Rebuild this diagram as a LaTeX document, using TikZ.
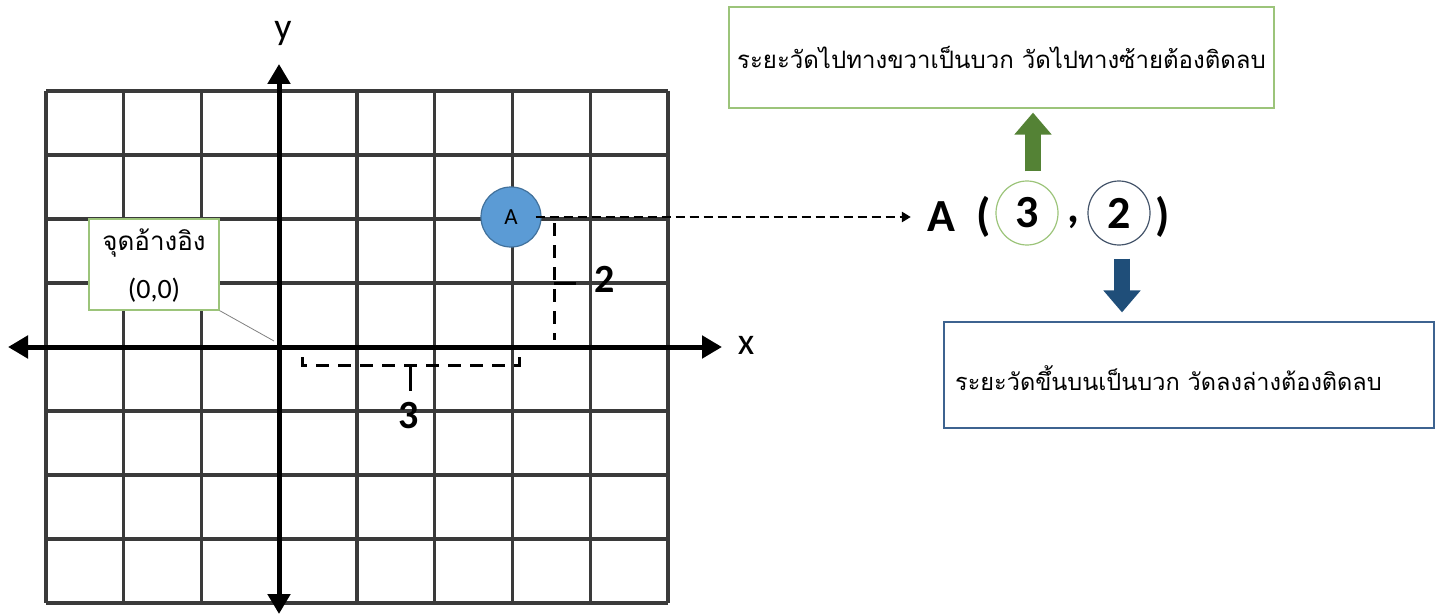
\documentclass[tikz,border=0pt]{standalone}
\usepackage{fontspec}
\setmainfont{Carlito}
\newfontfamily\thai[Script=Thai]{Loma}
\usetikzlibrary{arrows.meta,shapes.geometric}
\definecolor{gridc}{HTML}{3A3A3A}
\definecolor{ptfill}{HTML}{5B9BD5}
\definecolor{ptdraw}{HTML}{41719C}
\definecolor{garrow}{HTML}{548235}
\definecolor{barrow}{HTML}{1F4E79}
\definecolor{gbox}{HTML}{9CC47A}
\definecolor{bbox}{HTML}{3D6390}
\definecolor{e2c}{HTML}{44546A}
\tikzset{
  axis/.style={line width=5pt, {Triangle[length=20pt,width=22pt]}-{Triangle[length=20pt,width=22pt]}},
  gridline/.style={gridc, line width=3.2pt},
  dashline/.style={line width=3pt, dash pattern=on 13pt off 9pt},
  infobox/.style={draw, line width=1.2pt, fill=white, inner sep=0pt},
  coordtxt/.style={font=\bfseries\fontsize{46}{50}\selectfont, inner sep=0pt},
  ring/.style={ellipse, draw, line width=1.2pt, minimum width=62pt, minimum height=64pt, inner sep=0pt, font=\bfseries\fontsize{46}{50}\selectfont},
  blockarrow/.style={line width=16pt, -{Triangle[length=22pt,width=36pt]}},
}
\begin{document}
\begin{tikzpicture}[x=1pt,y=-1pt]
\useasboundingbox (0,0) rectangle (1441,615);
% grid
\foreach \k in {0,...,8} {
  \draw[gridline] ({46+\k*77.75},91) -- ({46+\k*77.75},603);
  \draw[gridline] (46,{91+\k*64}) -- (668,{91+\k*64});
}
% axes
\coordinate (yb) at (279,614);
\coordinate (yt) at (279,64);
\coordinate (xl) at (8,347);
\coordinate (xr) at (722,347);
\draw[axis] (yb) -- (yt);
\draw[axis] (xl) -- (xr);
\node[font=\fontsize{38}{40}\selectfont] (ylab) at (283,33) {y};
\node[font=\fontsize{38}{40}\selectfont] (xlab) at (746,345) {x};
% origin label
\coordinate (orig) at (274,341);
\node[infobox, draw=gbox, minimum width=130pt, minimum height=91pt] (olab) at (154,264.5) {};
\draw[gray, line width=0.8pt] (olab.south east) -- (orig);
\node[font=\thai\fontsize{26}{28}\selectfont, inner sep=0pt] (olab1) at (154,243) {จุดอ้างอิง};
\node[font=\fontsize{28}{30}\selectfont, inner sep=0pt] (olab2) at (154,290) {(0,0)};
% point A
\node[circle, fill=ptfill, draw=ptdraw, line width=1.2pt, minimum width=60pt, inner sep=0pt, font=\fontsize{23}{24}\selectfont] (pA) at (511,217) {A};
% dashed guides
\coordinate (v1) at (554,223);
\coordinate (v2) at (554,340);
\draw[dashline] (v1) -- (v2);
\coordinate (t2a) at (554,283);
\coordinate (t2b) at (576,283);
\draw[line width=3pt] (t2a) -- (t2b);
\node[font=\bfseries\fontsize{40}{42}\selectfont] (n2) at (605,279) {2};
\coordinate (h1) at (302,357);
\coordinate (h2) at (302,365);
\coordinate (h3) at (519,365);
\coordinate (h4) at (519,356);
\draw[dashline] (h1) -- (h2) -- (h3) -- (h4);
\coordinate (t3a) at (410,366);
\coordinate (t3b) at (410,391);
\draw[line width=3pt] (t3a) -- (t3b);
\node[font=\bfseries\fontsize{40}{42}\selectfont] (n3) at (409,416) {3};
% coordinate expression
\node[coordtxt] (cA) at (941,217) {A};
\node[coordtxt] (cpl) at (984,217) {(};
\node[ring, draw=gbox] (c3) at (1027,213) {3};
\node[coordtxt] (ccm) at (1073,222) {,};
\node[ring, draw=e2c] (c2) at (1119,213) {2};
\node[coordtxt] (cpr) at (1163,217) {)};
\draw[line width=2.8pt, dash pattern=on 9pt off 5pt, -{Triangle[length=9pt,width=10pt]}] ([xshift=-6pt]pA.east) -- ([xshift=-16pt]cA.west);
% boxes
\node[infobox, draw=gbox, minimum width=545pt, minimum height=101pt, font=\thai\fontsize{24}{26}\selectfont] (topbox) at (1001.5,57.5) {ระยะวัดไปทางขวาเป็นบวก วัดไปทางซ้ายต้องติดลบ};
\node[infobox, draw=bbox, minimum width=490pt, minimum height=106pt] (botbox) at (1189,375) {};
\node[anchor=west, inner sep=0pt, font=\thai\fontsize{23.5}{25}\selectfont] (bottxt) at (955,378) {ระยะวัดขึ้นบนเป็นบวก วัดลงล่างต้องติดลบ};
% block arrows
\draw[blockarrow, garrow] ([xshift=6pt,yshift=9pt]c3.north) -- ([xshift=6pt,yshift=-4pt]topbox.south -| c3.north);
\draw[blockarrow, barrow] ([xshift=3pt,yshift=-13pt]c2.south) -- ([xshift=3pt,yshift=9pt]botbox.north -| c2.south);
\end{tikzpicture}
\end{document}
